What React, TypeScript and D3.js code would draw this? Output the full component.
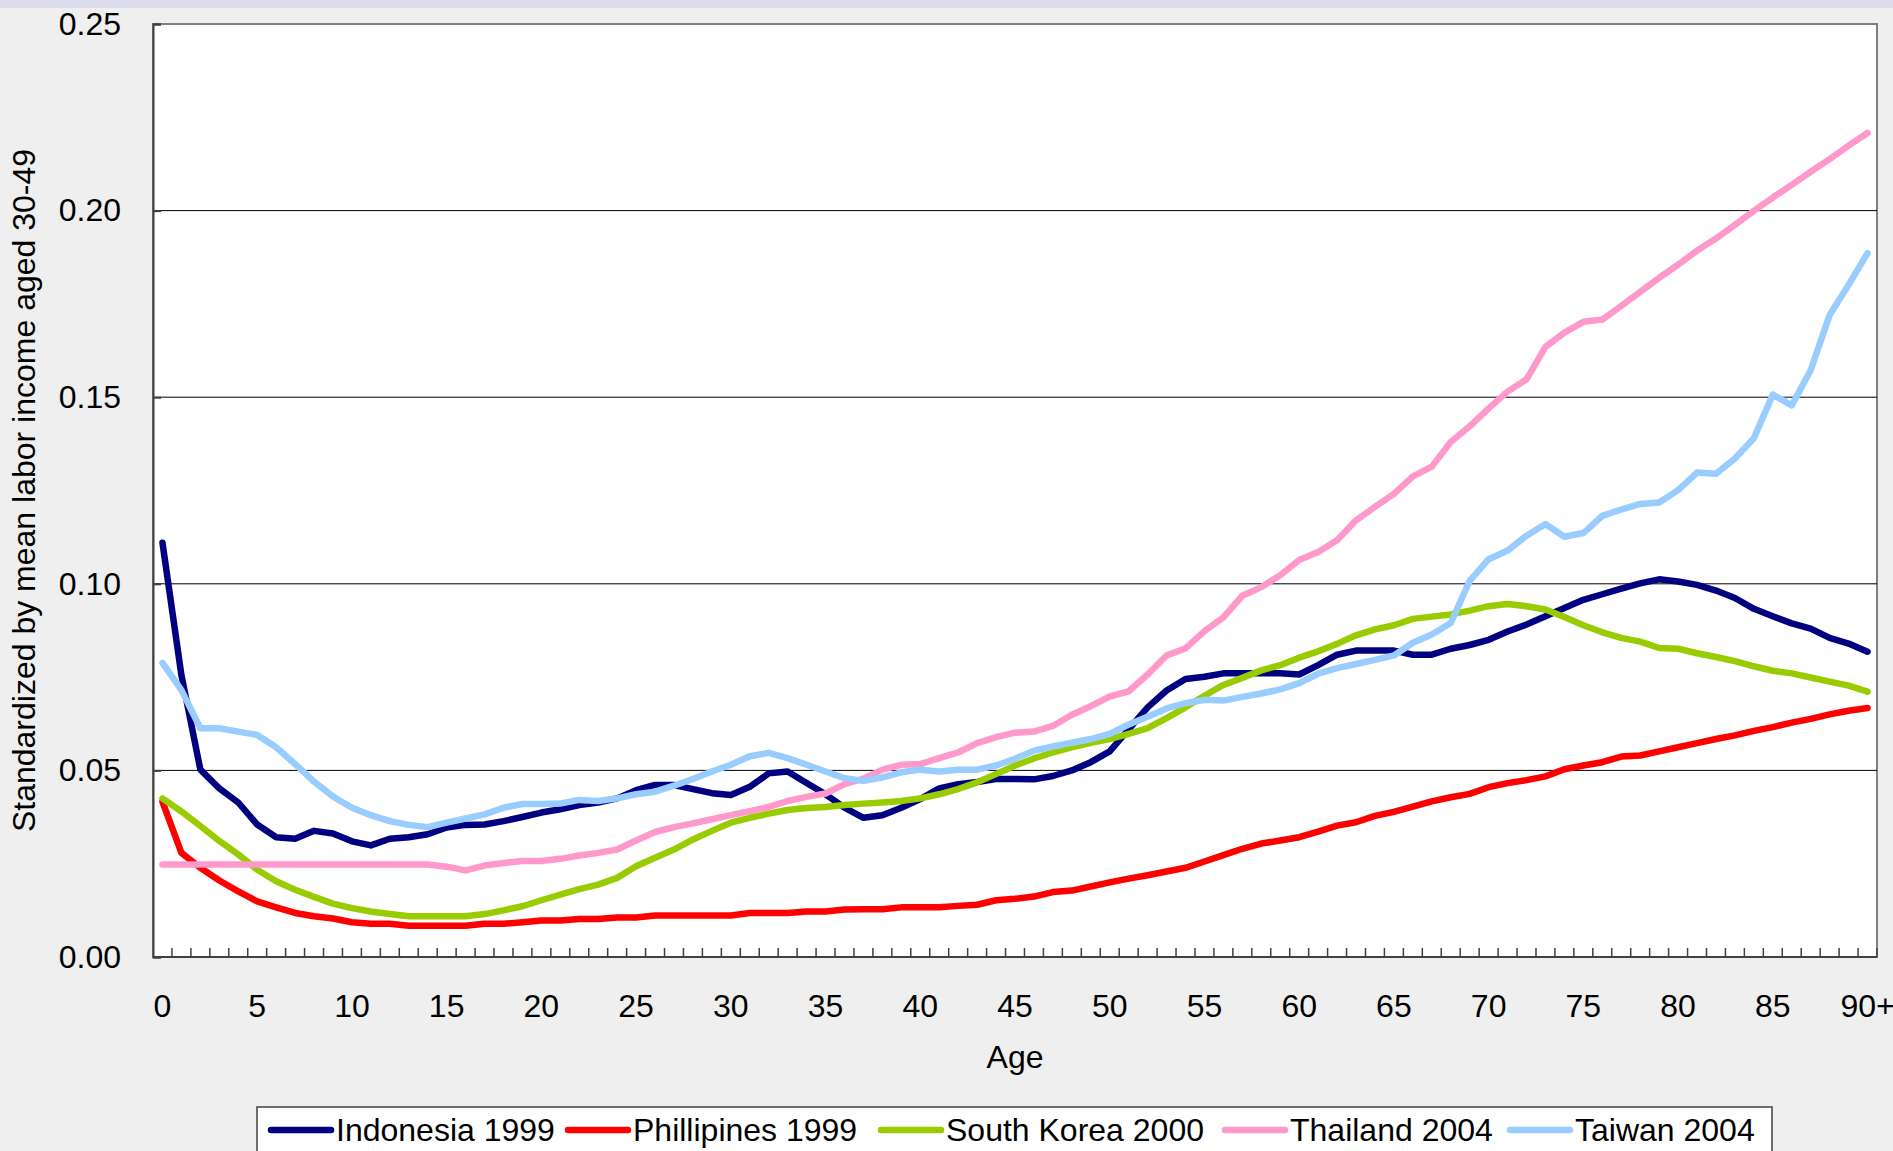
import React, { useEffect, useRef } from 'react';
import * as d3 from 'd3';

// ages 0..89 and the open-ended 90+ group
const ages = [
  '0','1','2','3','4','5','6','7','8','9','10','11','12','13','14','15','16','17','18','19',
  '20','21','22','23','24','25','26','27','28','29','30','31','32','33','34','35','36','37','38','39',
  '40','41','42','43','44','45','46','47','48','49','50','51','52','53','54','55','56','57','58','59',
  '60','61','62','63','64','65','66','67','68','69','70','71','72','73','74','75','76','77','78','79',
  '80','81','82','83','84','85','86','87','88','89','90+'
];
const tickAges = ['0','5','10','15','20','25','30','35','40','45','50','55','60','65','70','75','80','85','90+'];
const yTicks = [0, 0.05, 0.1, 0.15, 0.2, 0.25];

const indonesia1999 = [
  0.111,0.0755,0.0502,0.0452,0.0414,0.0355,0.0321,0.0317,0.0338,0.0331,
  0.031,0.0299,0.0317,0.0321,0.0329,0.0347,0.0354,0.0355,0.0364,0.0375,
  0.0387,0.0396,0.0407,0.0414,0.0425,0.0447,0.0461,0.0461,0.045,0.0439,
  0.0434,0.0456,0.0492,0.0497,0.0466,0.0436,0.04,0.0373,0.038,0.04,
  0.0423,0.0452,0.0463,0.0469,0.0477,0.0477,0.0476,0.0485,0.05,0.0522,
  0.0551,0.061,0.0669,0.0714,0.0745,0.0751,0.076,0.076,0.076,0.076,
  0.0757,0.0782,0.081,0.0821,0.0821,0.0821,0.081,0.081,0.0826,0.0836,
  0.085,0.0872,0.0891,0.0913,0.0935,0.0957,0.0972,0.0987,0.1001,0.1012,
  0.1006,0.0997,0.0982,0.0962,0.0933,0.0913,0.0894,0.088,0.0855,0.084,0.0818
];
const phillipines1999 = [
  0.0416,0.0279,0.0239,0.0205,0.0176,0.0149,0.0133,0.0118,0.0109,0.0103,
  0.0093,0.0089,0.0089,0.0084,0.0084,0.0084,0.0084,0.0089,0.0089,0.0093,
  0.0098,0.0098,0.0102,0.0102,0.0106,0.0106,0.0111,0.0111,0.0111,0.0111,
  0.0111,0.0118,0.0118,0.0118,0.0122,0.0122,0.0127,0.0128,0.0128,0.0133,
  0.0133,0.0133,0.0137,0.014,0.0152,0.0156,0.0162,0.0174,0.0178,0.0189,
  0.02,0.021,0.0219,0.0229,0.0239,0.0256,0.0273,0.029,0.0304,0.0312,
  0.0321,0.0336,0.0352,0.0361,0.0378,0.0389,0.0403,0.0417,0.0428,0.0437,
  0.0455,0.0466,0.0474,0.0484,0.0503,0.0513,0.0522,0.0537,0.054,0.0551,
  0.0562,0.0573,0.0584,0.0594,0.0606,0.0616,0.0628,0.0638,0.065,0.066,0.0667
];
const southKorea2000 = [
  0.0425,0.039,0.0351,0.0311,0.0275,0.0234,0.0203,0.018,0.0161,0.0143,
  0.0131,0.0122,0.0115,0.0109,0.0109,0.0109,0.0109,0.0115,0.0125,0.0136,
  0.0152,0.0167,0.0182,0.0194,0.0212,0.0243,0.0266,0.0288,0.0315,0.0338,
  0.036,0.0373,0.0384,0.0394,0.0399,0.0402,0.0407,0.0411,0.0414,0.0418,
  0.0425,0.0436,0.045,0.0468,0.049,0.0513,0.0532,0.0548,0.0562,0.0574,
  0.0584,0.0598,0.0613,0.064,0.0669,0.07,0.0729,0.0748,0.0768,0.0782,
  0.0802,0.0819,0.0839,0.0862,0.0878,0.0889,0.0906,0.0912,0.0918,0.0928,
  0.094,0.0946,0.094,0.0931,0.0911,0.0889,0.087,0.0855,0.0845,0.0828,
  0.0826,0.0814,0.0804,0.0793,0.0779,0.0767,0.076,0.0749,0.0738,0.0727,0.0711
];
const thailand2004 = [
  0.0248,0.0248,0.0248,0.0248,0.0248,0.0248,0.0248,0.0248,0.0248,0.0248,
  0.0248,0.0248,0.0248,0.0248,0.0248,0.0242,0.0232,0.0245,0.0252,0.0257,
  0.0257,0.0263,0.0272,0.0279,0.0288,0.0312,0.0335,0.0348,0.0358,0.0369,
  0.038,0.0391,0.0402,0.0418,0.0429,0.0438,0.0463,0.0478,0.0502,0.0515,
  0.0517,0.0533,0.0548,0.0573,0.0589,0.0601,0.0604,0.0619,0.0649,0.0672,
  0.0698,0.0712,0.0757,0.0808,0.0827,0.0873,0.091,0.0968,0.0991,0.1023,
  0.1064,0.1085,0.1117,0.117,0.1206,0.1241,0.1288,0.1314,0.138,0.1422,
  0.147,0.1515,0.1548,0.1635,0.1673,0.1702,0.1708,0.1745,0.1782,0.182,
  0.1855,0.1893,0.1925,0.1962,0.1999,0.2035,0.2069,0.2104,0.2138,0.2174,0.2208
];
const taiwan2004 = [
  0.0788,0.0715,0.0613,0.0613,0.0604,0.0595,0.0562,0.0517,0.047,0.043,
  0.04,0.038,0.0364,0.0354,0.0348,0.036,0.0371,0.0382,0.04,0.041,
  0.041,0.0411,0.0421,0.0418,0.0425,0.0436,0.0443,0.0459,0.0477,0.0497,
  0.0515,0.0538,0.0547,0.0533,0.0515,0.0497,0.0479,0.0472,0.0481,0.0495,
  0.0502,0.0497,0.0502,0.0502,0.0513,0.0531,0.0553,0.0564,0.0574,0.0584,
  0.0598,0.0623,0.0644,0.0666,0.068,0.0689,0.0687,0.0697,0.0706,0.0717,
  0.0734,0.0759,0.0774,0.0785,0.0796,0.0808,0.0842,0.0864,0.0895,0.1008,
  0.1066,0.1089,0.1129,0.116,0.1126,0.1136,0.1182,0.1199,0.1214,0.1218,
  0.1251,0.1298,0.1295,0.1336,0.139,0.1507,0.1478,0.1573,0.172,0.1801,0.1886
];

const seriesNames = ['Indonesia 1999', 'Phillipines 1999', 'South Korea 2000', 'Thailand 2004', 'Taiwan 2004'];
const seriesValues = [indonesia1999, phillipines1999, southKorea2000, thailand2004, taiwan2004];
const seriesColors = ['#000080', '#ff0000', '#99cc00', '#ff99cc', '#99ccff'];

export default function App() {
  const svgRef = useRef<SVGSVGElement>(null);

  useEffect(() => {
    const width = 1893, height = 1151;
    const left = 153, right = 1877, top = 24, bottom = 957;
    const font = 'Liberation Sans, Arial, sans-serif';
    const fs = 32;

    const svg = d3.select(svgRef.current);
    svg.selectAll('*').remove();
    svg.attr('width', width).attr('height', height).style('font-family', font);

    // slide background
    svg.append('rect').attr('width', width).attr('height', height).attr('fill', '#efefef');
    svg.append('rect').attr('width', width).attr('height', 8).attr('fill', '#dcdcec');

    const x = d3.scaleBand<string>().domain(ages).range([left, right]);
    const y = d3.scaleLinear().domain([0, 0.25]).range([bottom, top]);

    svg.append('rect')
      .attr('x', left).attr('y', top)
      .attr('width', right - left).attr('height', bottom - top)
      .attr('fill', '#fff').attr('stroke', '#808080').attr('stroke-width', 2);

    // gridlines
    svg.append('g').selectAll('line')
      .data(yTicks.filter(d => d > 0 && d < 0.25))
      .join('line')
      .attr('x1', left).attr('x2', right)
      .attr('y1', d => y(d)).attr('y2', d => y(d))
      .attr('stroke', '#000').attr('stroke-width', 1);

    // y axis
    const yAxis = svg.append('g')
      .attr('transform', `translate(${left},0)`)
      .call(d3.axisLeft(y).tickValues(yTicks).tickFormat(d3.format('.2f')).tickSize(-8).tickPadding(32));
    yAxis.select('.domain').attr('stroke', '#404040').attr('stroke-width', 2);
    yAxis.selectAll('.tick line').attr('stroke', '#404040').attr('stroke-width', 2);
    yAxis.selectAll('.tick text').attr('font-size', fs).attr('font-family', font).attr('fill', '#000');

    // x axis: boundary ticks pointing inward
    const step = x.step();
    svg.append('line')
      .attr('x1', left).attr('x2', right).attr('y1', bottom).attr('y2', bottom)
      .attr('stroke', '#404040').attr('stroke-width', 2);
    svg.append('g').selectAll('line')
      .data(ages)
      .join('line')
      .attr('x1', d => (x(d) as number) + step).attr('x2', d => (x(d) as number) + step)
      .attr('y1', bottom).attr('y2', bottom - 9)
      .attr('stroke', '#404040').attr('stroke-width', 1.5);
    svg.append('g').selectAll('text')
      .data(tickAges)
      .join('text')
      .attr('x', d => (x(d) as number) + step / 2)
      .attr('y', 1017)
      .attr('text-anchor', 'middle')
      .attr('font-size', fs)
      .text(d => d);

    svg.append('text')
      .attr('x', (left + right) / 2).attr('y', 1068)
      .attr('text-anchor', 'middle').attr('font-size', fs)
      .text('Age');

    svg.append('text')
      .attr('transform', `translate(24,${(top + bottom) / 2}) rotate(-90)`)
      .attr('dy', '0.35em')
      .attr('text-anchor', 'middle').attr('font-size', fs)
      .text('Standardized by mean labor income aged 30-49');

    // series lines
    const lineGen = d3.line<number>()
      .x((_, i) => (x(ages[i]) as number) + step / 2)
      .y(d => y(d));
    svg.append('g').selectAll('path')
      .data(seriesValues)
      .join('path')
      .attr('d', d => lineGen(d))
      .attr('fill', 'none')
      .attr('stroke', (_, i) => seriesColors[i])
      .attr('stroke-width', 6.5)
      .attr('stroke-linejoin', 'round')
      .attr('stroke-linecap', 'round');

    // legend
    const legendX = [268, 565, 878, 1222, 1507];
    const legend = svg.append('g');
    legend.append('rect')
      .attr('x', 257).attr('y', 1107).attr('width', 1772 - 257).attr('height', 60)
      .attr('fill', '#fff').attr('stroke', '#404040').attr('stroke-width', 1.5);
    seriesNames.forEach((name, i) => {
      const cx = legendX[i];
      legend.append('line')
        .attr('x1', cx + 3).attr('x2', cx + 63).attr('y1', 1130).attr('y2', 1130)
        .attr('stroke', seriesColors[i]).attr('stroke-width', 6.5).attr('stroke-linecap', 'round');
      legend.append('text')
        .attr('x', cx + 68).attr('y', 1141).attr('font-size', fs).text(name);
    });
  }, []);

  return (
    <div style={{ position: 'absolute', left: 0, top: 0 }}>
      <svg ref={svgRef} />
    </div>
  );
}
